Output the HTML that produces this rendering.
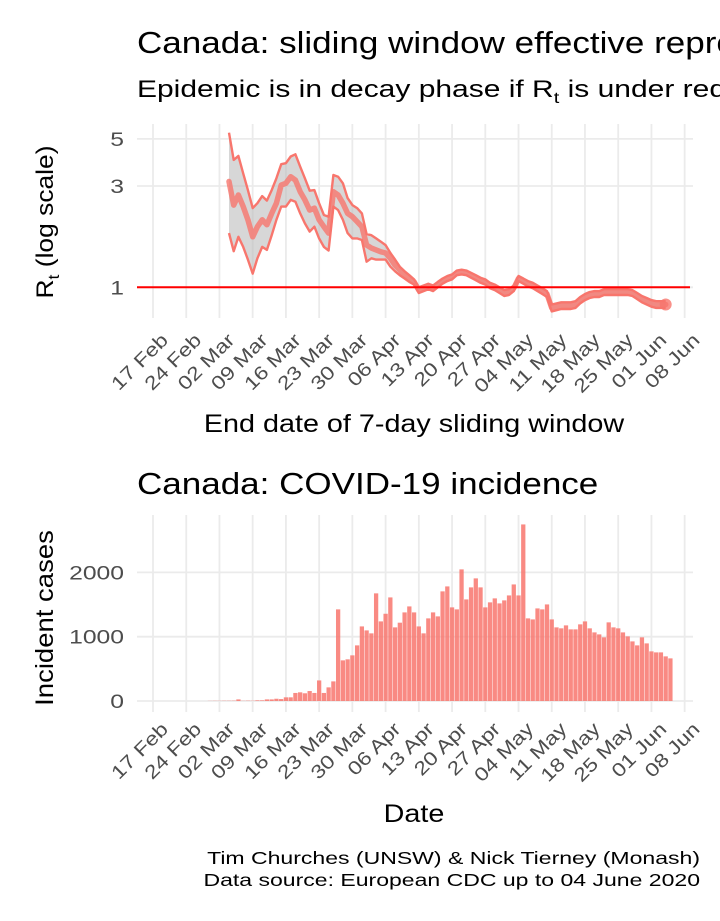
<!DOCTYPE html>
<html><head><meta charset="utf-8">
<style>
html,body{margin:0;padding:0;background:#fff;}
svg{display:block;font-family:"Liberation Sans",Arial,sans-serif;}
</style></head>
<body>
<svg id="chart" width="720" height="921" viewBox="0 0 720 921">
  <text transform="translate(137,53) scale(1.13,1)" font-size="31" fill="#000">Canada: sliding window effective reproduction number</text>
  <text transform="translate(137,97) scale(1.25,1)" font-size="24" fill="#000">Epidemic is in decay phase if R<tspan font-size="16" dy="6">t</tspan><tspan dy="-6">  is under red line</tspan></text>
  <g id="topPanel"></g>
  <text transform="translate(53,222) rotate(-90) scale(1.1,1)" text-anchor="middle" font-size="24" fill="#000">R<tspan font-size="16" dy="6">t</tspan><tspan dy="-6"> (log scale)</tspan></text>
  <text transform="translate(414,432) scale(1.15,1)" text-anchor="middle" font-size="25" fill="#000">End date of 7-day sliding window</text>
  <text transform="translate(137,494) scale(1.13,1)" font-size="31" fill="#000">Canada: COVID-19 incidence</text>
  <g id="botPanel"></g>
  <text transform="translate(53,618) rotate(-90) scale(1.1,1)" text-anchor="middle" font-size="25" fill="#000">Incident cases</text>
  <text transform="translate(414,822) scale(1.15,1)" text-anchor="middle" font-size="25" fill="#000">Date</text>
  <text transform="translate(700,864) scale(1.28,1)" text-anchor="end" font-size="18" fill="#000">Tim Churches (UNSW) &amp; Nick Tierney (Monash)</text>
  <text transform="translate(700,886) scale(1.28,1)" text-anchor="end" font-size="18" fill="#000">Data source: European CDC up to 04 June 2020</text>
</svg>
<script>
// Day 0 = 17 Feb 2020
const tickLabels = ["17 Feb","24 Feb","02 Mar","09 Mar","16 Mar","23 Mar","30 Mar","06 Apr","13 Apr","20 Apr","27 Apr","04 May","11 May","18 May","25 May","01 Jun","08 Jun"];
const rtStartDay = 16;
const rtMean = [3.15,2.44,2.72,2.40,2.08,1.73,1.93,2.08,1.97,2.23,2.49,3.03,3.09,3.32,3.20,2.82,2.58,2.31,2.36,2.08,1.93,1.80,2.82,2.72,2.49,2.23,2.15,2.04,1.93,1.58,1.53,1.50,1.47,1.45,1.37,1.27,1.21,1.14,1.10,1.06,0.97,0.99,1.01,0.99,1.03,1.07,1.10,1.12,1.17,1.18,1.17,1.14,1.11,1.08,1.06,1.02,1.00,0.97,0.94,0.95,0.99,1.10,1.07,1.04,1.02,0.99,0.96,0.93,0.80,0.81,0.82,0.82,0.82,0.83,0.87,0.90,0.92,0.93,0.93,0.95,0.95,0.95,0.95,0.95,0.95,0.94,0.91,0.88,0.86,0.84,0.83,0.83,0.83];
const rtUpper = [5.35,3.98,4.16,3.44,2.87,2.36,2.49,2.69,2.56,2.87,3.26,3.80,3.84,4.13,4.23,3.70,3.26,2.85,2.87,2.49,2.19,2.15,3.38,3.32,3.09,2.63,2.44,2.36,2.23,1.78,1.76,1.70,1.64,1.58,1.45,1.35,1.25,1.19,1.14,1.09,1.00,1.02,1.04,1.02,1.06,1.10,1.13,1.15,1.20,1.21,1.20,1.17,1.14,1.11,1.09,1.05,1.03,1.00,0.97,0.98,1.02,1.13,1.10,1.07,1.05,1.02,0.99,0.96,0.83,0.84,0.85,0.85,0.85,0.86,0.90,0.93,0.95,0.96,0.96,0.98,0.98,0.98,0.98,0.98,0.98,0.97,0.94,0.91,0.89,0.87,0.86,0.86,0.86];
const rtLower = [1.80,1.48,1.73,1.55,1.35,1.16,1.37,1.55,1.50,1.76,2.08,2.40,2.40,2.58,2.53,2.23,2.00,1.83,1.93,1.70,1.55,1.49,2.40,2.31,2.08,1.80,1.70,1.70,1.67,1.32,1.37,1.35,1.35,1.35,1.25,1.19,1.14,1.10,1.06,1.03,0.94,0.96,0.98,0.96,1.00,1.04,1.07,1.09,1.14,1.15,1.14,1.11,1.08,1.05,1.03,0.99,0.97,0.94,0.91,0.92,0.96,1.07,1.04,1.01,0.99,0.96,0.93,0.90,0.77,0.78,0.79,0.79,0.79,0.80,0.84,0.87,0.89,0.90,0.90,0.92,0.92,0.92,0.92,0.92,0.92,0.91,0.88,0.85,0.83,0.81,0.80,0.80,0.80];
const rtTicks = [1,3,5];
const caseStartDay = 12;
const cases = [2,3,3,4,4,5,25,3,5,4,10,10,25,25,35,30,57,57,125,135,120,155,125,320,125,212,305,1425,632,648,710,865,1160,1098,1052,1674,1238,1357,1611,1145,1218,1378,1471,1378,1160,1052,1285,1378,1316,1705,1782,1456,1425,2047,1580,1767,1907,1767,1456,1534,1596,1518,1565,1642,1813,1642,2746,1285,1269,1440,1425,1502,1269,1145,1130,1176,1114,1114,1192,1238,1130,1067,1036,990,1223,1145,1130,1067,1005,927,865,990,896,772,756,756,694,663];
const caseTicks = [0,1000,2000];

const NS="http://www.w3.org/2000/svg";
function mk(parent,tag,attrs){const e=document.createElementNS(NS,tag);for(const k in attrs)e.setAttribute(k,attrs[k]);parent.appendChild(e);return e;}
const xs = d => 153 + d*4.747;
const yRt = v => 287.3 - Math.log(v)*92.2;
const yCase = v => 701 - v*0.0643;

function grid(g, gTop, gBottom, yfn, ticks, fmt, labelY, name){
  tickLabels.forEach((t,i)=>{
    const gx=xs(i*7);
    const l=mk(g,'line',{x1:gx,x2:gx,y1:gTop,y2:gBottom,stroke:'#ebebeb','stroke-width':1.8});
    
    
    const tx=mk(g,'text',{x:0,y:0,transform:`translate(${gx+7},${labelY}) rotate(-45) scale(1.2,1)`,'text-anchor':'end','font-size':19,fill:'#4d4d4d','dominant-baseline':'hanging'});
    tx.textContent=t;
    
    
  });
  ticks.forEach(v=>{
    const gy=yfn(v);
    const l=mk(g,'line',{x1:137,x2:693,y1:gy,y2:gy,stroke:'#ebebeb','stroke-width':1.8});
    
    
    const tx=mk(g,'text',{x:0,y:0,transform:`translate(124,${gy+7}) scale(1.3,1)`,'text-anchor':'end','font-size':19,fill:'#4d4d4d'});
    tx.textContent=fmt(v);
    
    
  });
}

const topG=document.getElementById('topPanel');
grid(topG,124,318,yRt,rtTicks,v=>String(v),332,'rt');
const up=rtUpper.map((v,i)=>[xs(rtStartDay+i),yRt(v)]);
const lo=rtLower.map((v,i)=>[xs(rtStartDay+i),yRt(v)]);
const mn=rtMean.map((v,i)=>[xs(rtStartDay+i),yRt(v)]);
const pts=a=>a.map(p=>p[0].toFixed(1)+','+p[1].toFixed(1)).join(' ');
const band=mk(topG,'polygon',{points:pts(up)+' '+pts(lo.slice().reverse()),fill:'#bdbdbd','fill-opacity':0.6});


const ul=mk(topG,'polyline',{points:pts(up),fill:'none',stroke:'#F8766D','stroke-width':2.4,'stroke-linejoin':'round'});


const ll=mk(topG,'polyline',{points:pts(lo),fill:'none',stroke:'#F8766D','stroke-width':2.4,'stroke-linejoin':'round'});


const ml=mk(topG,'polyline',{points:pts(mn),fill:'none',stroke:'#F8766D','stroke-opacity':0.8,'stroke-width':5.5,'stroke-linejoin':'round','stroke-linecap':'round'});


const last=mn[mn.length-1];
const dot=mk(topG,'circle',{cx:last[0],cy:last[1],r:6,fill:'#F8766D','fill-opacity':0.8});


const ref=mk(topG,'line',{x1:137,x2:690,y1:yRt(1),y2:yRt(1),stroke:'#ff0000','stroke-width':2});



const botG=document.getElementById('botPanel');
grid(botG,515,712,yCase,caseTicks,v=>String(v),721,'incidence');
const bw=4.747*0.9;
cases.forEach((v,i)=>{
  const cx=xs(caseStartDay+i);
  const r=mk(botG,'rect',{x:cx-bw/2,y:yCase(v),width:bw,height:Math.max(0,yCase(0)-yCase(v)),fill:'#F8766D','fill-opacity':0.85});
  
  
});
</script>
</body></html>
